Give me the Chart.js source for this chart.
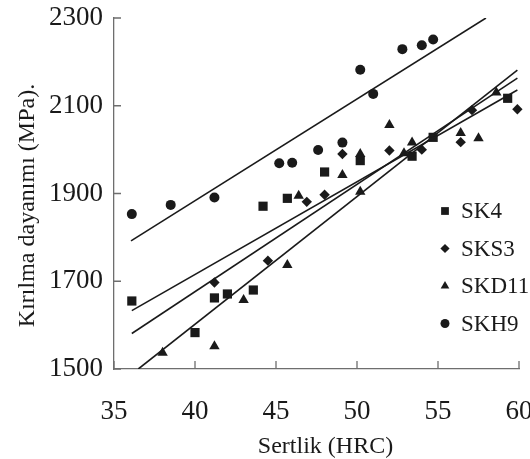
<!DOCTYPE html>
<html>
<head>
<meta charset="utf-8">
<script src="https://cdn.jsdelivr.net/npm/chart.js@4/dist/chart.umd.min.js"></script>
<style>
  html, body { margin: 0; padding: 0; background: #fff; }
  #wrap { width: 530px; height: 459px; }
</style>
</head>
<body>
<div id="wrap"><canvas id="c" width="530" height="459"></canvas></div>
<script>
// hardness (HRC) vs. fracture strength (MPa) per tool steel
const SK4 = [[36.1,1655],[40.0,1583],[41.2,1662],[42.0,1671],[43.6,1680],[44.2,1871],
             [45.7,1889],[48.0,1949],[50.2,1975],[53.4,1985],[54.7,2028],[59.3,2117]];
const SKS3 = [[41.2,1697],[44.5,1747],[46.9,1881],[48.0,1897],[49.1,1990],[52.0,1998],
              [54.0,2000],[56.4,2017],[57.1,2090],[59.9,2092]];
const SKD11 = [[38.0,1537],[41.2,1552],[43.0,1657],[45.7,1737],[46.4,1895],[49.1,1942],
               [50.2,1904],[50.2,1990],[52.0,2056],[52.9,1992],[53.4,2016],[56.4,2038],
               [57.5,2026],[58.6,2130]];
const SKH9 = [[36.1,1853],[38.5,1874],[41.2,1891],[45.2,1969],[46.0,1970],[47.6,1999],
              [49.1,2016],[50.2,2182],[51.0,2127],[52.8,2229],[54.0,2238],[54.7,2251]];

// fitted lines (end points)
const FIT_SK4 = [[36.1,1633],[59.9,2136]];
const FIT_SKS3 = [[36.1,1581],[59.9,2163]];
const FIT_SKD11 = [[36.5,1500],[59.9,2181]];
const FIT_SKH9 = [[36.05,1792],[57.96,2300]];

const X_TICKS = [35, 40, 45, 50, 55, 60];
const Y_TICKS = [1500, 1700, 1900, 2100, 2300];
const X_TITLE = 'Sertlik (HRC)';
const Y_TITLE = 'Kırılma dayanımı (MPa).';

const INK = '#1a1a1a';
const AXIS = '#6e6e6e';
const SERIF = '"Liberation Serif", "Times New Roman", serif';

const toXY = pts => pts.map(([x, y]) => ({x, y}));

const markers = [
  {label: 'SK4',   pts: SK4,   style: 'rect',     r: 6.5, lr: 5.5},
  {label: 'SKS3',  pts: SKS3,  style: 'rectRot',  r: 5.2, lr: 4.6},
  {label: 'SKD11', pts: SKD11, style: 'triangle', r: 6.0, lr: 5.0},
  {label: 'SKH9',  pts: SKH9,  style: 'circle',   r: 5.0, lr: 4.5}
];
const fits = [FIT_SK4, FIT_SKS3, FIT_SKD11, FIT_SKH9];

const datasets = [];
fits.forEach(f => datasets.push({
  data: toXY(f), showLine: true, borderColor: INK, borderWidth: 1.6,
  pointRadius: 0, fill: false, isFit: true
}));
markers.forEach(m => datasets.push({
  label: m.label, data: toXY(m.pts), pointStyle: m.style, pointRadius: m.r,
  pointBackgroundColor: INK, pointBorderColor: INK, pointBorderWidth: 0,
  showLine: false, clip: false, legendRadius: m.lr
}));

// inward ticks, axis titles and the legend box
const decor = {
  id: 'decor',
  afterDraw(chart) {
    const {ctx, chartArea: a, scales: {x, y}} = chart;
    ctx.save();
    ctx.strokeStyle = AXIS;
    ctx.lineWidth = 1.3;
    ctx.beginPath();
    X_TICKS.forEach(v => {
      const px = x.getPixelForValue(v);
      ctx.moveTo(px, a.bottom); ctx.lineTo(px, a.bottom - 8);
    });
    Y_TICKS.forEach(v => {
      const py = y.getPixelForValue(v);
      ctx.moveTo(a.left, py); ctx.lineTo(a.left + 7, py);
    });
    ctx.stroke();

    ctx.fillStyle = INK;
    ctx.font = '24px ' + SERIF;
    ctx.textAlign = 'center';
    ctx.textBaseline = 'alphabetic';
    ctx.fillText(X_TITLE, (a.left + a.right) / 2 + 9, 453);
    ctx.save();
    ctx.translate(34, (a.top + a.bottom) / 2 + 12);
    ctx.rotate(-Math.PI / 2);
    ctx.fillText(Y_TITLE, 0, 0);
    ctx.restore();

    // legend
    ctx.font = '23px ' + SERIF;
    ctx.textAlign = 'left';
    ctx.textBaseline = 'middle';
    let ly = 211;
    chart.data.datasets.filter(d => !d.isFit).forEach(d => {
      ctx.fillStyle = INK;
      Chart.helpers.drawPoint(ctx, {pointStyle: d.pointStyle, radius: d.legendRadius,
        borderWidth: 0, rotation: 0}, 445, ly);
      ctx.fillStyle = INK;
      ctx.fillText(d.label, 461, ly + 1);
      ly += 37.5;
    });
    ctx.restore();
  }
};

new Chart(document.getElementById('c'), {
  type: 'scatter',
  data: {datasets},
  options: {
    responsive: false,
    animation: false,
    devicePixelRatio: 1,
    layout: {padding: {top: 18, right: 11, left: 0, bottom: 0}},
    plugins: {legend: {display: false}, tooltip: {enabled: false}},
    scales: {
      x: {
        type: 'linear', min: 35, max: 60,
        afterBuildTicks: s => { s.ticks = X_TICKS.map(v => ({value: v})); },
        afterFit: s => { s.height = 90; s.paddingRight = 0; s.paddingLeft = 0; },
        grid: {display: false, drawTicks: false},
        border: {display: true, color: AXIS, width: 1.3},
        ticks: {color: INK, font: {family: SERIF, size: 27}, padding: 27, maxRotation: 0,
                autoSkip: false, callback: v => String(v)}
      },
      y: {
        type: 'linear', min: 1500, max: 2300,
        afterBuildTicks: s => { s.ticks = Y_TICKS.map(v => ({value: v})); },
        afterFit: s => { s.width = 114; s.paddingTop = 0; s.paddingBottom = 0; },
        grid: {display: false, drawTicks: false},
        border: {display: true, color: AXIS, width: 1.3},
        ticks: {color: INK, font: {family: SERIF, size: 27}, padding: 11, autoSkip: false,
                callback: v => String(v)}
      }
    }
  },
  plugins: [decor]
});
</script>
</body>
</html>
